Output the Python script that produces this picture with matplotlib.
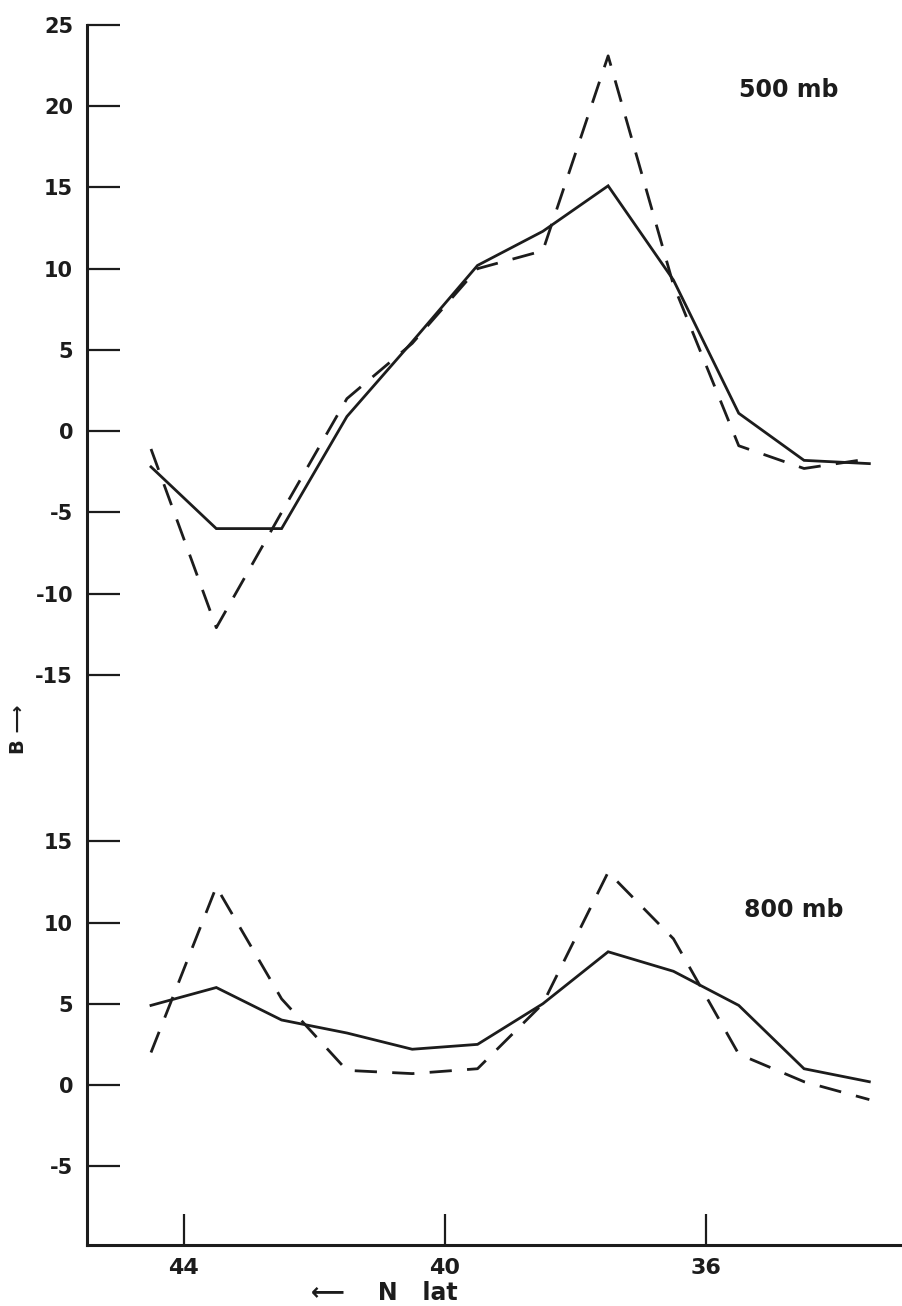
import matplotlib.pyplot as plt

# latitude of each analysis point (deg N)
lat = [44.5, 43.5, 42.5, 41.5, 40.5, 39.5, 38.5, 37.5, 36.5, 35.5, 34.5, 33.5]

# 500 mb curves
b500_solid = [-2.2, -6.0, -6.0, 0.9, 5.5, 10.2, 12.3, 15.1, 9.3, 1.1, -1.8, -2.0]
b500_dash = [-1.1, -12.1, -5.0, 2.0, 5.4, 10.0, 11.1, 23.1, 9.0, -0.9, -2.3, -1.7]

# 800 mb curves
b800_solid = [4.9, 6.0, 4.0, 3.2, 2.2, 2.5, 5.0, 8.2, 7.0, 4.9, 1.0, 0.2]
b800_dash = [2.0, 12.2, 5.3, 0.9, 0.7, 1.0, 5.0, 13.1, 9.0, 1.9, 0.2, -0.9]

xticks = [44, 40, 36]
ticks500 = [25, 20, 15, 10, 5, 0, -5, -10, -15]
ticks800 = [15, 10, 5, 0, -5]

# the 800 mb panel sits below the 500 mb one on the same vertical axis
shift = 40.25

plt.rcParams['font.family'] = ['DejaVu Sans']
ink = '#1c1c1c'
dashed = (0, (8.0, 5.5))

fig = plt.figure(figsize=(9.02, 13.06), dpi=100)
ax = fig.add_axes([87 / 902, 61 / 1306, 1 - 87 / 902, 1220 / 1306])

# 500 mb
ax.plot(lat, b500_solid, color=ink, lw=2.0, solid_joinstyle='miter')
ax.plot(lat, b500_dash, color=ink, lw=2.0, linestyle=dashed)

# 800 mb (shifted down)
ax.plot(lat, [v - shift for v in b800_solid], color=ink, lw=2.0, solid_joinstyle='miter')
ax.plot(lat, [v - shift for v in b800_dash], color=ink, lw=2.0, linestyle=dashed)

ax.set_xlim(45.48, 33.0)
ax.set_ylim(-50.1, 25)

for s in ['top', 'right']:
    ax.spines[s].set_visible(False)
for s in ['left', 'bottom']:
    ax.spines[s].set_linewidth(2.2)
    ax.spines[s].set_color(ink)

yt = ticks500 + [t - shift for t in ticks800]
ylab = [str(t) for t in ticks500] + [str(t) for t in ticks800]
ax.set_yticks(yt)
ax.set_yticklabels(ylab, fontsize=15, fontweight='bold', color=ink)
ax.tick_params(axis='y', direction='in', length=24, width=1.6, color=ink, pad=10)

ax.set_xticks(xticks)
ax.set_xticklabels([str(t) for t in xticks], fontsize=16, fontweight='bold', color=ink)
ax.tick_params(axis='x', direction='in', length=22, width=1.6, color=ink, pad=9)

ax.text(35.49, 21.0, '500 mb', fontsize=17, fontweight='bold', color=ink, va='center')
ax.text(35.42, -29.5, '800 mb', fontsize=17, fontweight='bold', color=ink, va='center')

fig.text(384 / 902, 1 - 1293 / 1306, '\u27f5    N   lat', fontsize=17, fontweight='bold',
         color=ink, ha='center', va='center')
fig.text(19 / 902, 1 - 729 / 1306, 'B \u27f6', fontsize=14, fontweight='bold',
         color=ink, ha='center', va='center', rotation=90)

fig.savefig('out.png', dpi=100, facecolor='white')
